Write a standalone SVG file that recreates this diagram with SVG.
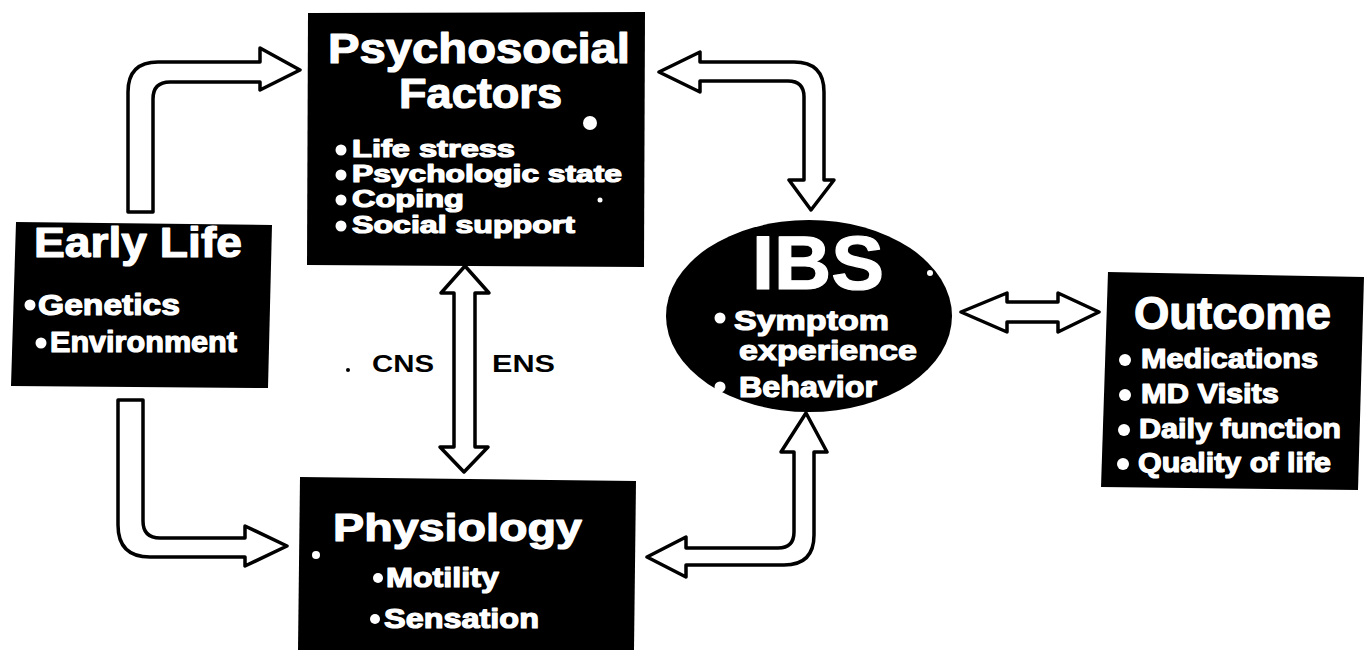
<svg xmlns="http://www.w3.org/2000/svg" width="1368" height="650" viewBox="0 0 1368 650">
<style>
.box{fill:#000}
.t{font-family:"Liberation Sans",Arial,sans-serif;font-weight:bold;fill:#fff;stroke:#fff;stroke-width:1.2;stroke-linejoin:round}
.lbl{font-family:"Liberation Sans",Arial,sans-serif;font-weight:bold;fill:#000;font-size:23px}
.arr{fill:#fff;stroke:#000;stroke-width:3.5;stroke-linejoin:round}
.b{fill:#fff}
</style>
<rect width="1368" height="650" fill="#fff"/>
<g id="connectors">
<path class="arr" d="M128,212 L128,92 Q128,62 158,62 L260,62 L260,48 L300,70 L260,90 L260,82 L170,82 Q153,82 153,99 L153,212 Z"/>
<path class="arr" d="M118,400 L143,400 L143,521 Q143,538 160,538 L245,538 L245,526 L287,546 L245,566 L245,557 L150,557 Q118,557 118,525 Z"/>
<path class="arr" d="M465,266 L489,293 L475,293 L475,447 L488,447 L464,472 L440,447 L454,447 L454,293 L441,293 Z"/>
<path class="arr" d="M659,72 L700,52 L700,62 L794,62 Q824,62 824,92 L824,180 L834,180 L811,210 L789,180 L804,180 L804,97 Q804,81 788,81 L700,81 L700,92 Z"/>
<path class="arr" d="M806,413 L827,452 L814,452 L814,535 Q814,565 784,565 L686,565 L686,577 L647,557 L686,537 L686,548 L778,548 Q794,548 794,532 L794,452 L781,452 Z"/>
<path class="arr" d="M961,312 L1007,293 L1007,302 L1058,302 L1058,293 L1099,312 L1058,332 L1058,322 L1007,322 L1007,332 Z"/>
<text class="lbl" x="372" y="372" textLength="62" lengthAdjust="spacingAndGlyphs">CNS</text>
<text class="lbl" x="492" y="372" textLength="63" lengthAdjust="spacingAndGlyphs">ENS</text>
<circle cx="348" cy="370" r="2" fill="#000"/>
</g>
<g id="psychosocial">
<path class="box" d="M308,13 L645,12 L644,267 L307,265 Z"/>
<text class="t" x="328" y="63" font-size="43" textLength="302" lengthAdjust="spacingAndGlyphs">Psychosocial</text>
<text class="t" x="399" y="108" font-size="43" textLength="163" lengthAdjust="spacingAndGlyphs">Factors</text>
<circle class="b" cx="590" cy="123" r="7"/>
<circle class="b" cx="341" cy="150" r="5.5"/>
<circle class="b" cx="341" cy="175" r="5.5"/>
<circle class="b" cx="341" cy="200" r="5.5"/>
<circle class="b" cx="341" cy="226" r="5.5"/>
<text class="t" x="352" y="157" font-size="23" textLength="163" lengthAdjust="spacingAndGlyphs">Life stress</text>
<text class="t" x="352" y="182" font-size="23" textLength="270" lengthAdjust="spacingAndGlyphs">Psychologic state</text>
<text class="t" x="352" y="207" font-size="23" textLength="112" lengthAdjust="spacingAndGlyphs">Coping</text>
<text class="t" x="352" y="233" font-size="23" textLength="223" lengthAdjust="spacingAndGlyphs">Social support</text>
<circle class="b" cx="600" cy="200" r="2.5"/>
</g>
<g id="early-life">
<path class="box" d="M16,222 L272,225 L268,388 L11,386 Z"/>
<text class="t" x="34" y="257" font-size="42" textLength="208" lengthAdjust="spacingAndGlyphs">Early Life</text>
<circle class="b" cx="30" cy="305" r="5.5"/>
<circle class="b" cx="41" cy="343" r="5.5"/>
<text class="t" x="38" y="315" font-size="29" textLength="142" lengthAdjust="spacingAndGlyphs">Genetics</text>
<text class="t" x="50" y="352" font-size="29" textLength="187" lengthAdjust="spacingAndGlyphs">Environment</text>
</g>
<g id="physiology">
<path class="box" d="M300,477 L636,481 L634,650 L298,650 Z"/>
<text class="t" x="333" y="541" font-size="39" textLength="249" lengthAdjust="spacingAndGlyphs">Physiology</text>
<circle class="b" cx="378" cy="578" r="5"/>
<circle class="b" cx="375" cy="619" r="5"/>
<circle class="b" cx="316" cy="555" r="4"/>
<text class="t" x="386" y="587" font-size="27" textLength="113" lengthAdjust="spacingAndGlyphs">Motility</text>
<text class="t" x="384" y="628" font-size="27" textLength="155" lengthAdjust="spacingAndGlyphs">Sensation</text>
</g>
<g id="ibs">
<ellipse class="box" cx="809" cy="316" rx="143" ry="96"/>
<text class="t" x="752" y="289" font-size="76" textLength="132" lengthAdjust="spacingAndGlyphs">IBS</text>
<circle class="b" cx="720" cy="318" r="5.5"/>
<circle class="b" cx="720" cy="387" r="5.5"/>
<circle class="b" cx="930" cy="273" r="3"/>
<text class="t" x="734" y="330" font-size="28" textLength="155" lengthAdjust="spacingAndGlyphs">Symptom</text>
<text class="t" x="739" y="360" font-size="28" textLength="178" lengthAdjust="spacingAndGlyphs">experience</text>
<text class="t" x="739" y="397" font-size="29" textLength="138" lengthAdjust="spacingAndGlyphs">Behavior</text>
</g>
<g id="outcome">
<path class="box" d="M1108,272 L1364,277 L1358,490 L1101,487 Z"/>
<text class="t" x="1134" y="329" font-size="46" textLength="197" lengthAdjust="spacingAndGlyphs">Outcome</text>
<circle class="b" cx="1125" cy="360" r="6"/>
<circle class="b" cx="1125" cy="395" r="6"/>
<circle class="b" cx="1124" cy="430" r="6"/>
<circle class="b" cx="1123" cy="464" r="6"/>
<text class="t" x="1141" y="368" font-size="28" textLength="177" lengthAdjust="spacingAndGlyphs">Medications</text>
<text class="t" x="1141" y="403" font-size="28" textLength="138" lengthAdjust="spacingAndGlyphs">MD Visits</text>
<text class="t" x="1139" y="438" font-size="28" textLength="202" lengthAdjust="spacingAndGlyphs">Daily function</text>
<text class="t" x="1138" y="472" font-size="28" textLength="193" lengthAdjust="spacingAndGlyphs">Quality of life</text>
</g>
</svg>
